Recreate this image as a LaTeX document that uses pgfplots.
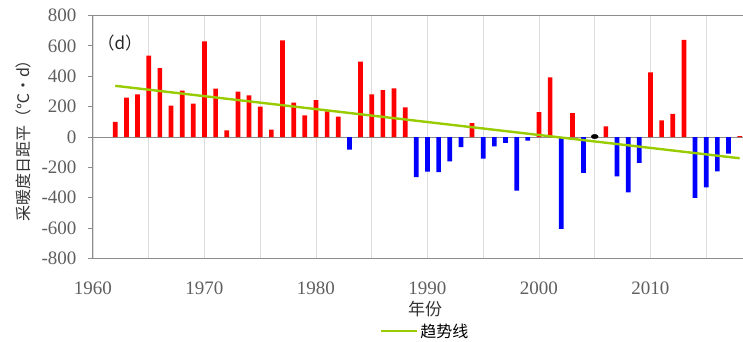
\documentclass[border=0pt]{standalone}
\usepackage{pgfplots}
\pgfplotsset{compat=1.18}
\usepackage{fontspec}
\setmainfont{Liberation Serif}
\newfontfamily\cjk{Noto Sans CJK SC}
\definecolor{trend}{RGB}{153,204,0}
\definecolor{gridc}{RGB}{220,220,220}
\definecolor{framec}{RGB}{140,140,140}
\definecolor{tickc}{RGB}{95,95,95}
\definecolor{barred}{RGB}{255,0,0}
\definecolor{barblue}{RGB}{0,0,255}
\begin{document}
\begin{tikzpicture}
\begin{axis}[
  name=ax,
  scale only axis, width=650pt, height=243pt,
  xmin=1960, xmax=2018.3, ymin=-800, ymax=800,
  axis x line=box, axis y line=left,
  axis line style={-, framec, line width=1pt},
  xtick={1960,1970,...,2010}, minor xtick={1965,1975,...,2015},
  xmajorgrids, xminorgrids,
  major grid style={gridc, line width=0.8pt},
  minor grid style={gridc, line width=0.8pt},
  x tick style={draw=none},
  ytick={-800,-600,...,800},
  y tick style={framec, line width=0.8pt},
  tick align=outside, major tick length=5pt,
  extra y ticks={0}, extra y tick labels={},
  extra y tick style={grid=major, major grid style={framec, line width=1pt}},
  /pgf/number format/assume math mode=true,
  /pgf/number format/1000 sep={},
  ticklabel style={font=\fontsize{19}{19}\selectfont, text=tickc},
  yticklabel style={xshift=-8pt},
  xticklabel style={yshift=-15pt},
  xlabel={年份},
  ylabel={采暖度日距平（℃・d）},
  every axis x label/.style={at={(rel axis cs:0.511,0)}, anchor=north, yshift=-39pt,
     font=\cjk\fontsize{17}{17}\selectfont, text=black!80},
  every axis y label/.style={at={(rel axis cs:0,0.5)}, xshift=-70pt, rotate=90, anchor=center,
     font=\cjk\fontsize{16}{16}\selectfont, text=black!80},
  legend style={at={(rel axis cs:0.511,0)}, anchor=north, yshift=-61pt, draw=none, fill=none,
     font=\cjk\fontsize{16}{16}\selectfont},
  legend image code/.code={\draw[#1] (0pt,0pt) -- (36pt,0pt);},
  clip=false,
]
\addplot[ybar, bar width=4.7pt, bar shift=0pt, fill=barred, draw=none, forget plot] coordinates {
(1962,100) (1963,259) (1964,281) (1965,535) (1966,454) (1967,206) (1968,305) (1969,219)
(1970,629) (1971,318) (1972,44) (1973,298) (1974,274) (1975,200) (1976,48) (1977,636)
(1978,226) (1979,143) (1980,243) (1981,169) (1982,134) (1984,496) (1985,281) (1986,309)
(1987,320) (1988,195) (1994,92) (2000,164) (2001,392) (2003,158) (2006,70) (2010,425)
(2011,110) (2012,153) (2013,640) (2018,6)
};
\addplot[ybar, bar width=4.7pt, bar shift=0pt, fill=barblue, draw=none, forget plot] coordinates {
(1983,-83) (1989,-265) (1990,-228) (1991,-232) (1992,-160) (1993,-66) (1995,-142)
(1996,-61) (1997,-39) (1998,-353) (1999,-24) (2002,-605) (2004,-237) (2007,-259)
(2008,-364) (2009,-171) (2014,-401) (2015,-331) (2016,-226) (2017,-110)
};
\addplot[only marks, mark=*, mark size=2.2pt, black, mark options={xscale=1.6}, forget plot]
  coordinates {(2005,3)};
\addplot[trend, line width=2.4pt] coordinates {(1962,337) (2018,-140)};
\addlegendentry{趋势线}
\node[anchor=west, font=\cjk\fontsize{17}{17}\selectfont, text=black!85] at (axis cs:1960.1,620) {（d）};
\end{axis}
\pgfresetboundingbox
\path[use as bounding box] ([shift={(-93pt,-83.5pt)}]ax.south west) rectangle ([shift={(0pt,15.5pt)}]ax.north east);
\end{tikzpicture}
\end{document}
